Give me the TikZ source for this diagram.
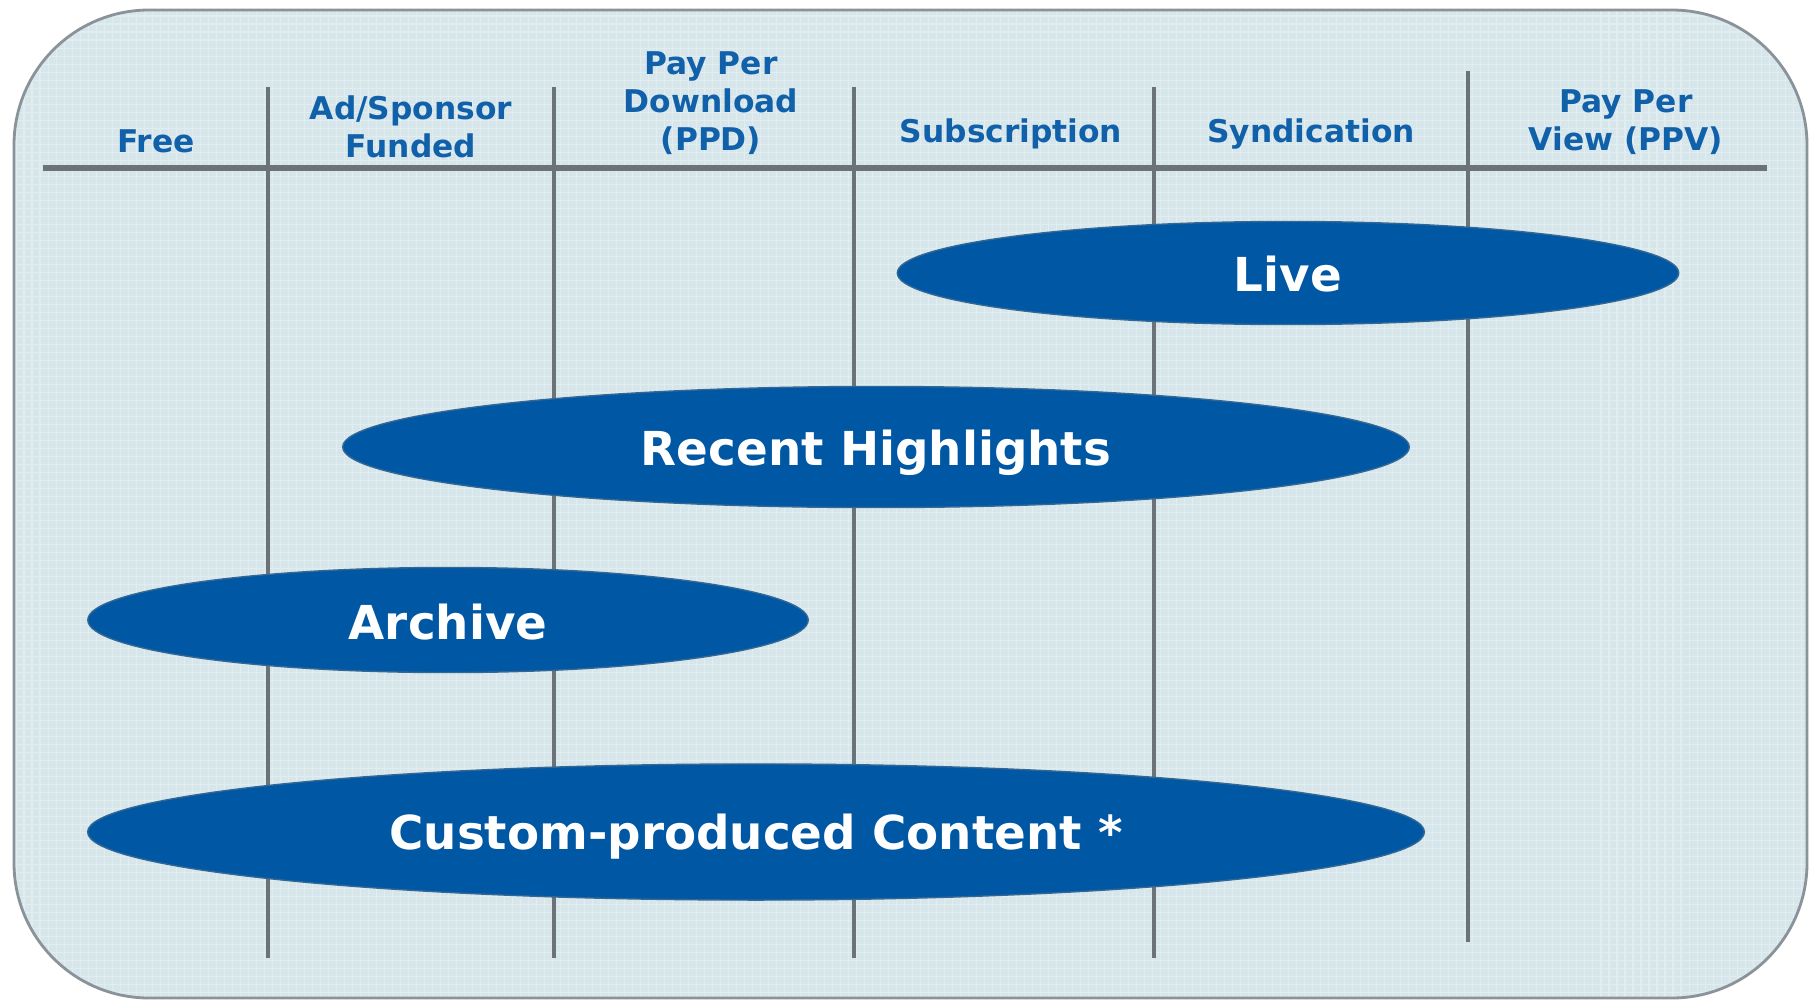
\documentclass[tikz,border=0pt]{standalone}
\usepackage{fontspec}
\setmainfont{DejaVu Sans}
\usepackage{xcolor}
\usepackage{tikz}
\usetikzlibrary{shapes.geometric}

\definecolor{panel}{HTML}{D6E6EA}
\definecolor{rim}{HTML}{8A9399}
\definecolor{rulegray}{HTML}{6B7379}
\definecolor{headblue}{HTML}{1160AA}
\definecolor{pillblue}{HTML}{0057A4}

\begin{document}
\begin{tikzpicture}[
    x=0.01cm, y=-0.01cm,
    head/.style={font=\fontsize{8.9}{10.8}\selectfont\bfseries, text=headblue, align=center, inner sep=0pt},
    pill/.style={ellipse, fill=pillblue, draw=pillblue!60!gray, line width=0.4pt, text=white, font=\fontsize{13.3}{16}\selectfont\bfseries, inner sep=0pt},
    divider/.style={draw=rulegray, line width=1.2pt},
]
\useasboundingbox (0,0) rectangle (1809,1000);

% panel with its faint grid texture
\fill[panel, rounded corners=1.35cm] (14,10) rectangle (1807,998);
\begin{scope}
  \clip[rounded corners=1.35cm] (14,10) rectangle (1807,998);
  \draw[white, opacity=0.3, line width=0.3pt, step=0.08cm] (0,0) grid (1809,1000);
\end{scope}
\draw[rim, line width=0.8pt, rounded corners=1.35cm] (14,10) rectangle (1807,998);

% column dividers and header rule
\draw[divider] (268,87) -- (268,958);
\draw[divider] (554,87) -- (554,958);
\draw[divider] (854,87) -- (854,958);
\draw[divider] (1154,87) -- (1154,958);
\draw[divider] (1468,71) -- (1468,942);
\draw[divider, line width=1.5pt] (43,168) -- (1767,168);

% column headings
\node[head] (free) at (156,141) {Free};
\node[head] (adsp) at (411,127) {Ad/Sponsor\\Funded};
\node[head] (ppd) at (711,103.5) {Pay Per\\Download\\(PPD)};
\node[head] (subs) at (1011,133.5) {Subscription};
\node[head] (synd) at (1311,133.5) {Syndication};
\node[head] (ppv) at (1626,122.5) {Pay Per\\View (PPV)};

% content types spanning the models
\node[pill, minimum width=7.81cm, minimum height=1.03cm, text height=10.8pt] (live) at (1288,273) {Live};
\node[pill, minimum width=10.66cm, minimum height=1.21cm, text height=13.4pt] (recent) at (876,447) {Recent Highlights};
\node[pill, minimum width=7.20cm, minimum height=1.05cm, text height=11.4pt] (archive) at (448,620) {Archive};
\node[pill, minimum width=13.36cm, minimum height=1.36cm, text height=12.7pt] (custom) at (756,832) {Custom-produced Content *};
\end{tikzpicture}
\end{document}
